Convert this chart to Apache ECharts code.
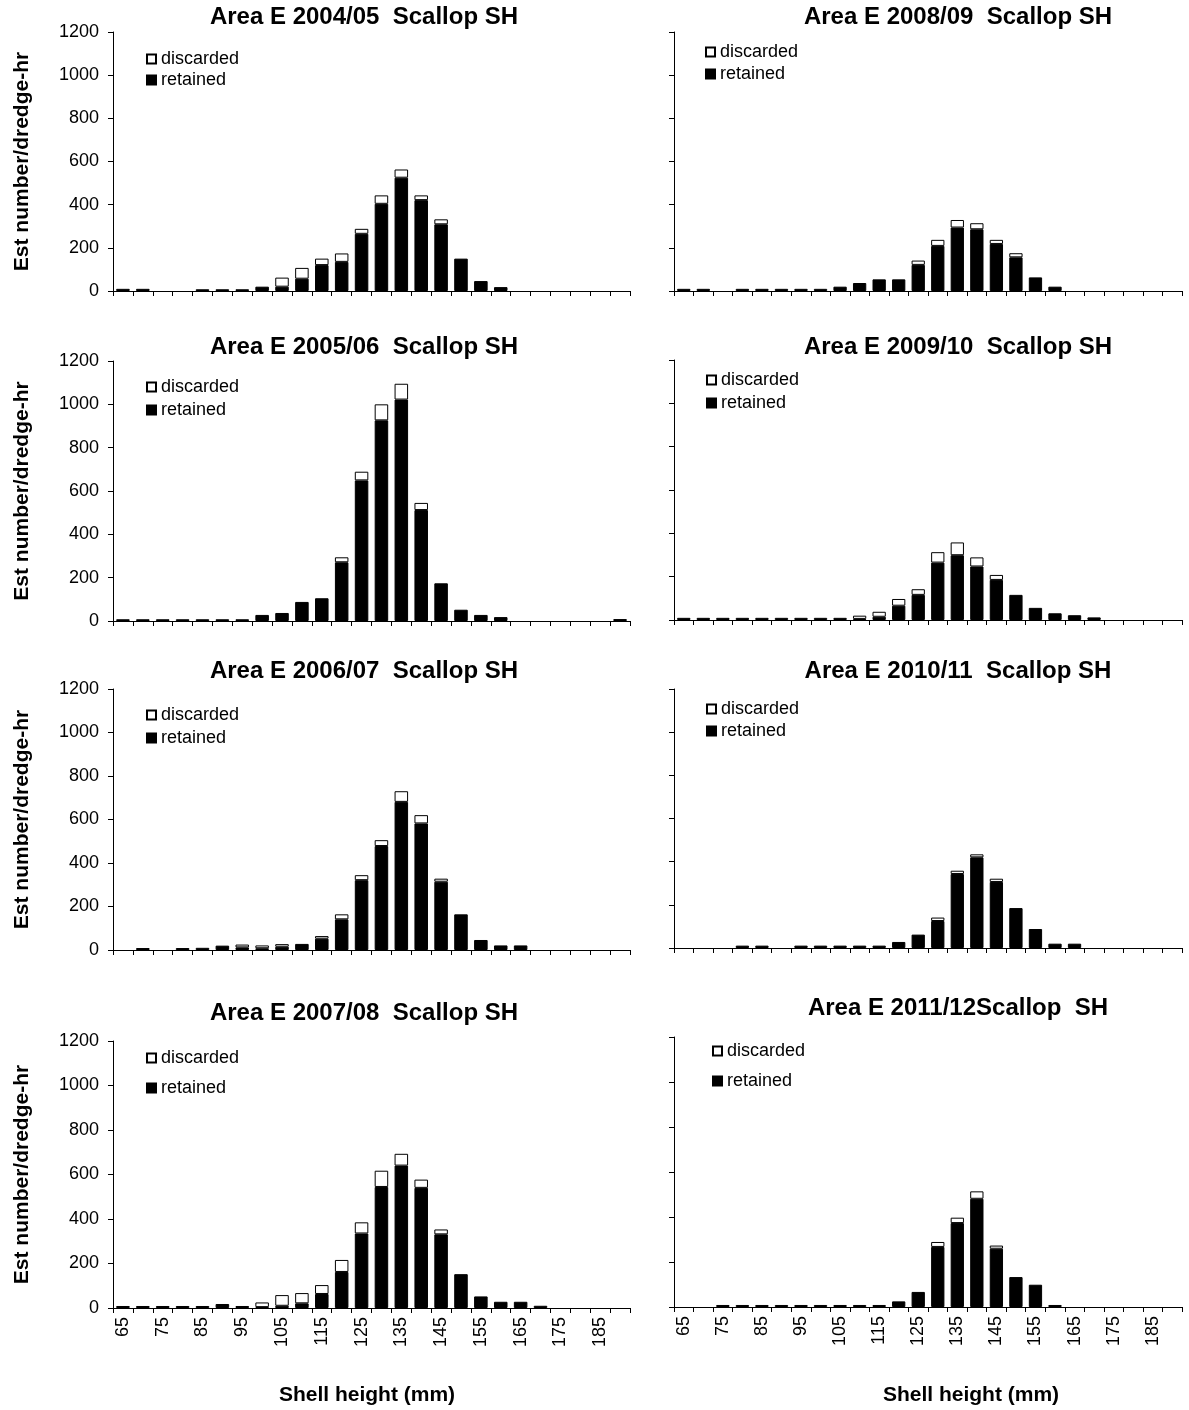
<!DOCTYPE html>
<html><head><meta charset="utf-8">
<script src="https://cdn.jsdelivr.net/npm/echarts@6/dist/echarts.min.js"></script>
<style>html,body{margin:0;padding:0;background:#fff}#c{width:1189px;height:1410px}</style>
</head><body><div id="c"></div>
<script>
// ---------- DATA ----------
const categories = ['65','70','75','80','85','90','95','100','105','110','115','120','125','130','135','140','145','150','155','160','165','170','175','180','185','190'];
const seriesNames = ['discarded', 'retained'];
const yMin = 0, yMax = 1200, yStep = 200;
const xAxisTitle = 'Shell height (mm)';
const yAxisTitle = 'Est number/dredge-hr';

const titles = [
  'Area E 2004/05  Scallop SH', 'Area E 2005/06  Scallop SH', 'Area E 2006/07  Scallop SH', 'Area E 2007/08  Scallop SH',
  'Area E 2008/09  Scallop SH', 'Area E 2009/10  Scallop SH', 'Area E 2010/11  Scallop SH', 'Area E 2011/12Scallop  SH'
];

const ret0405 = [10,10,0,0,8,8,8,20,20,57,120,135,265,404,525,421,309,150,46,18,0,0,0,0,0,0];
const dis0405 = [0,0,0,0,0,0,0,0,42,50,30,39,23,39,38,22,23,0,0,0,0,0,0,0,0,0];
const ret0506 = [8,8,8,8,8,8,8,28,37,88,105,271,649,926,1022,512,174,52,28,18,0,0,0,0,0,9];
const dis0506 = [0,0,0,0,0,0,0,0,0,0,0,23,40,74,73,33,0,0,0,0,0,0,0,0,0,0];
const ret0607 = [0,9,0,9,10,20,12,8,15,28,52,141,321,478,681,582,314,164,46,21,21,0,0,0,0,0];
const dis0607 = [0,0,0,0,0,0,13,13,12,0,12,23,23,27,49,38,14,0,0,0,0,0,0,0,0,0];
const ret0708 = [9,9,9,9,9,18,9,4,10,21,63,162,335,544,640,540,331,152,52,28,28,10,0,0,0,0];
const dis0708 = [0,0,0,0,0,0,0,21,48,46,40,54,50,73,53,37,22,0,0,0,0,0,0,0,0,0];
const ret0809 = [10,10,0,10,10,10,10,10,20,37,54,54,121,209,294,286,218,156,63,20,0,0,0,0,0,0];
const dis0809 = [0,0,0,0,0,0,0,0,0,0,0,0,20,28,35,28,19,19,0,0,0,0,0,0,0,0];
const ret0910 = [10,10,10,10,10,10,10,10,10,5,15,66,116,265,299,247,185,116,56,31,22,12,0,0,0,0];
const dis0910 = [0,0,0,0,0,0,0,0,0,15,23,31,26,48,59,42,23,0,0,0,0,0,0,0,0,0];
const ret1011 = [0,0,0,11,11,0,11,11,11,11,11,28,62,125,343,420,306,185,88,20,20,0,0,0,0,0];
const dis1011 = [0,0,0,0,0,0,0,0,0,0,0,0,0,16,15,14,15,0,0,0,0,0,0,0,0,0];
const ret1112 = [0,0,9,9,9,9,9,9,9,9,9,25,67,267,373,481,259,133,99,9,0,0,0,0,0,0];
const dis1112 = [0,0,0,0,0,0,0,0,0,0,0,0,0,22,24,33,14,0,0,0,0,0,0,0,0,0];

const retained = [ret0405, ret0506, ret0607, ret0708, ret0809, ret0910, ret1011, ret1112];
const discarded = [dis0405, dis0506, dis0607, dis0708, dis0809, dis0910, dis1011, dis1112];

// ---------- LAYOUT ----------
const FONT = 'Liberation Sans, Arial, sans-serif';
const colLeft = [113, 674], colWidth = [517, 508];
const rowTop = [[32, 361, 689, 1041], [32, 360, 689, 1037]];
const rowBottom = [[291, 621, 950, 1308], [291, 620, 948, 1307]];
const titleX = [364, 958];
const titleY = [[17, 347, 671, 1013], [17, 347, 671, 1008]];
const legendX = [[146, 146, 146, 146], [705, 706, 706, 712]];
const legendY = [[59, 387, 715, 1058], [52, 380, 709, 1051]];
const legendStep = [[21, 23, 23, 30], [22, 23, 22, 30]];
const xNameX = [367, 971], xNameY = 1395, yNameX = 22;

const noZero = arr => arr.map(v => (v === 0 ? null : v));

const grids = [], xAxes = [], yAxes = [], series = [], legends = [], graphics = [];
for (let p = 0; p < 8; p++) {
  const col = Math.floor(p / 4), row = p % 4;
  const top = rowTop[col][row], bottom = rowBottom[col][row];
  grids.push({left: colLeft[col], width: colWidth[col], top: top, height: bottom - top, containLabel: false});
  const isBottom = row === 3;
  xAxes.push({
    type: 'category', gridIndex: p, data: categories, boundaryGap: true,
    axisLine: {show: true, lineStyle: {color: '#000', width: 1}},
    axisTick: {show: true, interval: 0, length: 5, lineStyle: {color: '#000'}},
    axisLabel: {show: isBottom, interval: 1, rotate: 90, fontSize: 18, color: '#000', fontFamily: FONT, margin: 9},
    splitLine: {show: false}
  });
  yAxes.push({
    type: 'value', gridIndex: p, min: yMin, max: yMax, interval: yStep,
    axisLine: {show: true, lineStyle: {color: '#000', width: 1}},
    axisTick: {show: true, length: 5, lineStyle: {color: '#000'}},
    axisLabel: {show: col === 0, fontSize: 18, color: '#000', fontFamily: FONT, margin: 14, formatter: v => String(v)},
    splitLine: {show: false}
  });
  series.push({
    type: 'bar', name: 'retained', xAxisIndex: p, yAxisIndex: p, stack: 'st' + p,
    data: noZero(retained[p]), barCategoryGap: '32%',
    itemStyle: {color: '#000', borderColor: '#000', borderWidth: 1}
  });
  series.push({
    type: 'bar', name: 'discarded', xAxisIndex: p, yAxisIndex: p, stack: 'st' + p,
    data: noZero(discarded[p]), barCategoryGap: '32%',
    itemStyle: {color: '#fff', borderColor: '#000', borderWidth: 1}
  });
  legends.push({
    data: seriesNames, orient: 'vertical', icon: 'rect', itemWidth: 9, itemHeight: 9,
    left: legendX[col][row], top: legendY[col][row] - 9, padding: 0,
    itemGap: legendStep[col][row] - 18, selectedMode: false,
    textStyle: {fontSize: 18, lineHeight: 18, color: '#000', fontFamily: FONT}
  });
  graphics.push({
    type: 'text', x: titleX[col], y: titleY[col][row],
    style: {text: titles[p], font: 'bold 24px ' + FONT, fill: '#000', textAlign: 'center', textVerticalAlign: 'middle'}
  });
  if (col === 0) {
    graphics.push({
      type: 'text', x: yNameX, y: (top + bottom) / 2, rotation: Math.PI / 2,
      style: {text: yAxisTitle, font: 'bold 21px ' + FONT, fill: '#000', textAlign: 'center', textVerticalAlign: 'middle'}
    });
  }
}
for (let c = 0; c < 2; c++) {
  graphics.push({
    type: 'text', x: xNameX[c], y: xNameY,
    style: {text: xAxisTitle, font: 'bold 21px ' + FONT, fill: '#000', textAlign: 'center', textVerticalAlign: 'middle'}
  });
}

const chart = echarts.init(document.getElementById('c'), null, {renderer: 'canvas'});
chart.setOption({
  animation: false,
  backgroundColor: '#fff',
  textStyle: {fontFamily: FONT, color: '#000'},
  grid: grids, xAxis: xAxes, yAxis: yAxes, series: series, legend: legends,
  graphic: graphics
});
</script></body></html>
